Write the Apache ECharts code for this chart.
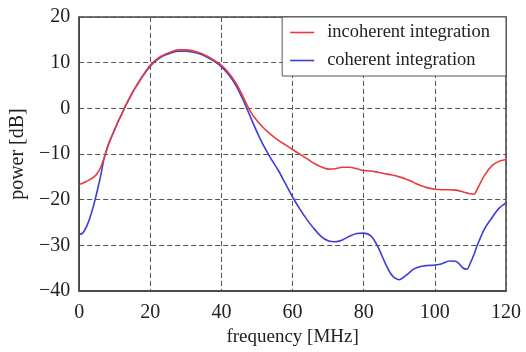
<!DOCTYPE html>
<html>
<head>
<meta charset="utf-8">
<script src="https://cdn.jsdelivr.net/npm/echarts@6/dist/echarts.min.js"></script>
<style>
  html, body { margin: 0; padding: 0; background: #fff; }
  #chart { width: 526px; height: 352px; }
</style>
</head>
<body>
<div id="chart"></div>
<script>
// frequency samples [MHz], shared by both curves
const freq = [0, 1, 2, 3, 4, 5, 6, 7, 8, 9, 10, 11, 12, 13, 14, 15, 16,
    18, 20, 22, 24, 26, 28, 30, 32, 34, 36, 38, 40, 42, 44, 46, 48, 50,
    52, 54, 56, 58, 60, 62, 64, 66, 68, 70, 72, 74, 76, 78, 80, 82, 84,
    86, 88, 90, 92, 94, 96, 98, 100, 102, 104, 106, 108,
    109, 110, 111, 112, 114, 116, 118, 120];

// power [dB], incoherent integration (red)
const incoherent = [-16.6, -16.4, -16.0, -15.6, -15.1, -14.3, -13.0, -10.9, -8.4, -6.4, -4.6, -2.8, -1.2, 0.5, 2.0, 3.5, 4.8,
    7.3, 9.5, 10.9, 11.8, 12.4, 12.8, 12.8, 12.6, 12.1, 11.4, 10.5, 9.4, 7.8, 5.6, 2.7, -0.5, -2.7,
    -4.4, -5.8, -7.0, -8.0, -9.0, -10.0, -11.0, -12.0, -12.8, -13.3, -13.2, -12.9, -12.9, -13.2, -13.6, -13.7, -14.0,
    -14.3, -14.6, -15.0, -15.5, -16.2, -16.9, -17.4, -17.7, -17.8, -17.8, -17.9, -18.3,
    -18.5, -18.7, -18.8, -17.5, -14.6, -12.6, -11.6, -11.2];

// power [dB], coherent integration (blue)
const coherent = [-27.6, -27.3, -26.0, -24.0, -21.4, -18.3, -14.9, -11.0, -8.4, -6.4, -4.6, -2.8, -1.2, 0.5, 2.0, 3.5, 4.8,
    7.2, 9.3, 10.7, 11.6, 12.2, 12.5, 12.5, 12.3, 11.9, 11.2, 10.3, 9.1, 7.4, 5.1, 2.0, -1.6, -5.2,
    -8.4, -11.1, -13.6, -16.5, -19.4, -22.0, -24.3, -26.3, -28.0, -29.0, -29.2, -28.8, -28.0, -27.4, -27.3, -27.9, -30.3,
    -33.8, -36.6, -37.5, -36.5, -35.2, -34.6, -34.4, -34.3, -34.0, -33.4, -33.5, -35.0,
    -35.2, -33.8, -32.0, -29.8, -26.3, -24.0, -21.9, -20.7];

const seriesNames = ["incoherent integration", "coherent integration"];

const serif = "'Liberation Serif', 'DejaVu Serif', serif";

const pairs = vals => freq.map((f, i) => [f, vals[i]]);

const gridLine = { show: true, lineStyle: { color: "#555", type: [5, 3], width: 1 } };

const chart = echarts.init(document.getElementById("chart"));
chart.setOption({
    animation: false,
    grid: {
        left: 78,
        top: 17,
        right: 20,
        bottom: 57,
        show: true,
        borderColor: "#444",
        borderWidth: 1.5
    },
    legend: {
        orient: "vertical",
        right: 20,
        top: 17,
        itemGap: 9,
        itemWidth: 24,
        itemHeight: 1.6,
        icon: "rect",
        padding: [6, 16, 6, 8],
        backgroundColor: "#fff",
        borderColor: "#555",
        borderWidth: 1,
        textStyle: {
            fontFamily: serif,
            fontSize: 18.5,
            color: "#222",
            padding: [0, 0, 0, 8]
        },
        data: seriesNames
    },
    xAxis: {
        type: "value",
        min: 0,
        max: 120,
        interval: 20,
        name: "frequency [MHz]",
        nameLocation: "middle",
        nameGap: 34,
        nameTextStyle: { fontFamily: serif, fontSize: 19, color: "#222" },
        axisLine: { onZero: false, lineStyle: { color: "#444", width: 1.5 } },
        axisTick: { show: false },
        axisLabel: { fontFamily: serif, fontSize: 20, color: "#222", margin: 12 },
        splitLine: gridLine
    },
    yAxis: {
        type: "value",
        min: -40,
        max: 20,
        interval: 10,
        name: "power [dB]",
        nameLocation: "middle",
        nameGap: 46,
        nameTextStyle: { fontFamily: serif, fontSize: 20, color: "#222" },
        axisLine: { show: true, onZero: false, lineStyle: { color: "#444", width: 1.5 } },
        axisTick: { show: false },
        axisLabel: {
            fontFamily: serif,
            fontSize: 20,
            color: "#222",
            margin: 9,
            formatter: v => (v < 0 ? "\u2212" + Math.abs(v) : String(v))
        },
        splitLine: gridLine
    },
    series: [
        {
            name: seriesNames[0],
            type: "line",
            smooth: 0.3,
            symbol: "none",
            lineStyle: { color: "#e83c3c", width: 1.6 },
            itemStyle: { color: "#e83c3c" },
            data: pairs(incoherent),
            z: 3
        },
        {
            name: seriesNames[1],
            type: "line",
            smooth: 0.3,
            symbol: "none",
            lineStyle: { color: "#3c3cd8", width: 1.6 },
            itemStyle: { color: "#3c3cd8" },
            data: pairs(coherent),
            z: 2
        }
    ]
});
</script>
</body>
</html>
